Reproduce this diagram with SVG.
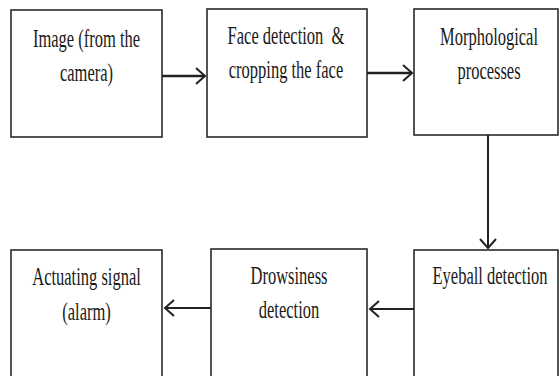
<svg xmlns="http://www.w3.org/2000/svg" width="559" height="376" viewBox="0 0 559 376">
<style>
.box{fill:#fff;stroke:#2a2a2a;stroke-width:1.6}
.t{font-family:"Liberation Serif","Times New Roman",serif;font-size:25px;fill:#1a1a1a;text-anchor:middle}
.c{fill:none;stroke:#222;stroke-width:2}
.thick{stroke-width:2.6}
</style>
<defs>
<marker id="ah" markerUnits="userSpaceOnUse" markerWidth="14" markerHeight="20" refX="11" refY="10" orient="auto" viewBox="0 0 14 20">
<path d="M2,2 L11,10 L2,18" fill="none" stroke="#222" stroke-width="2"/>
</marker>
</defs>
<rect width="559" height="376" fill="#fff"/>
<g id="n1">
<rect class="box" x="11" y="10" width="151" height="127"/>
<text class="t" transform="translate(86.5,47) scale(0.66,1)">Image (from the</text>
<text class="t" transform="translate(86.5,81) scale(0.66,1)">camera)</text>
</g>
<g id="n2">
<rect class="box" x="207" y="9" width="160" height="128"/>
<text class="t" transform="translate(286,44) scale(0.66,1)" xml:space="preserve">Face detection  &amp;</text>
<text class="t" transform="translate(286,78) scale(0.66,1)">cropping the face</text>
</g>
<g id="n3">
<rect class="box" x="414" y="9" width="144" height="126"/>
<text class="t" transform="translate(489,45) scale(0.66,1)">Morphological</text>
<text class="t" transform="translate(489,79) scale(0.66,1)">processes</text>
</g>
<g id="n4">
<rect class="box" x="414" y="250" width="144" height="140"/>
<text class="t" transform="translate(490,284) scale(0.66,1)">Eyeball detection</text>
</g>
<g id="n5">
<rect class="box" x="211" y="249" width="156" height="140"/>
<text class="t" transform="translate(289,284) scale(0.66,1)">Drowsiness</text>
<text class="t" transform="translate(289,318) scale(0.66,1)">detection</text>
</g>
<g id="n6">
<rect class="box" x="11" y="250" width="151" height="140"/>
<text class="t" transform="translate(86.5,285) scale(0.66,1)">Actuating signal</text>
<text class="t" transform="translate(86.5,320) scale(0.66,1)">(alarm)</text>
</g>
<g id="connectors">
<line class="c thick" x1="162" y1="76" x2="205" y2="76" marker-end="url(#ah)"/>
<line class="c thick" x1="367" y1="73" x2="412" y2="73" marker-end="url(#ah)"/>
<line class="c" x1="488" y1="135" x2="488" y2="248" marker-end="url(#ah)"/>
<line class="c" x1="414" y1="309" x2="370" y2="309" marker-end="url(#ah)"/>
<line class="c" x1="211" y1="308" x2="165" y2="308" marker-end="url(#ah)"/>
</g>
</svg>
